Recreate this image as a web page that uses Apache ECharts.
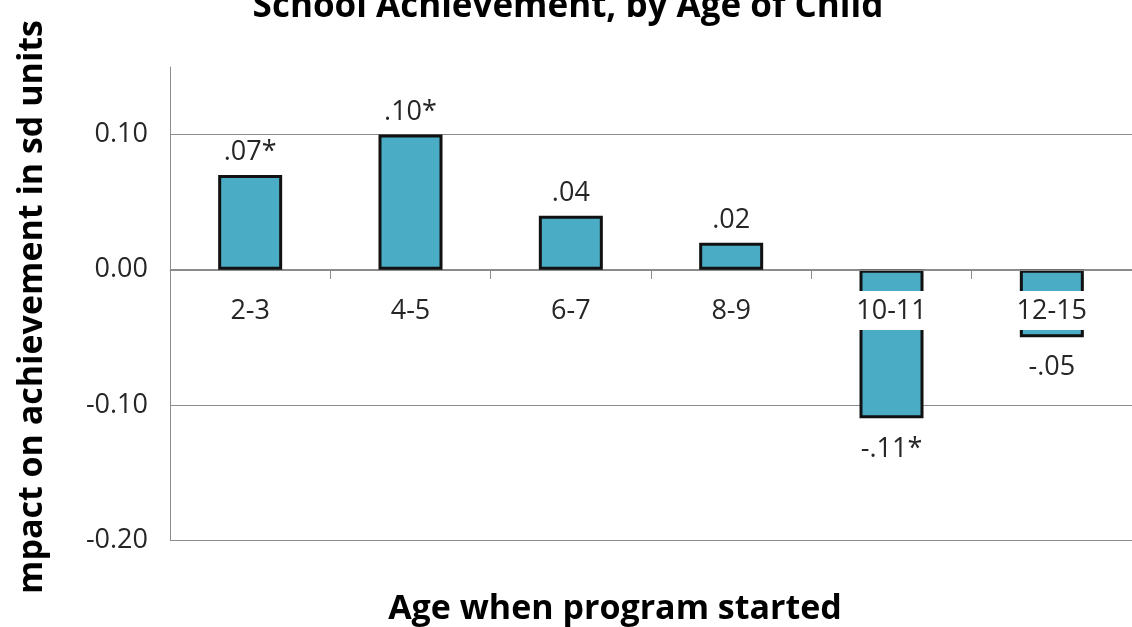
<!DOCTYPE html>
<html>
<head>
<meta charset="utf-8">
<script src="https://cdn.jsdelivr.net/npm/echarts@6/dist/echarts.min.js"></script>
<style>
html,body{margin:0;padding:0;background:#fff;}
#chart{width:1132px;height:627px;}
</style>
</head>
<body>
<div id="chart"></div>
<script>
var categories = ['2-3', '4-5', '6-7', '8-9', '10-11', '12-15'];
var values = [0.07, 0.10, 0.04, 0.02, -0.11, -0.05];
var valueLabels = ['.07*', '.10*', '.04', '.02', '-.11*', '-.05'];
var chartTitle = 'School Achievement, by Age of Child';
var xAxisTitle = 'Age when program started';
var yAxisTitle = 'mpact on achievement in sd units';

var FONT = '"Open Sans", "Liberation Sans", sans-serif';
var chart = echarts.init(document.getElementById('chart'), null, {renderer: 'canvas'});

var seriesData = values.map(function (v, i) {
  return {
    value: v,
    label: {
      position: v >= 0 ? 'top' : 'bottom',
      distance: v >= 0 ? 9 : 17,
      formatter: valueLabels[i]
    }
  };
});

chart.setOption({
  animation: false,
  backgroundColor: '#fff',
  grid: {left: 170, right: -16, top: 67, bottom: 87, containLabel: false},
  xAxis: {
    type: 'category',
    data: categories,
    z: 5,
    offset: -270,
    axisLine: {show: true, onZero: false, lineStyle: {color: '#8c8c8c', width: 1}},
    axisTick: {show: true, length: 9, lineStyle: {color: '#8c8c8c'}},
    axisLabel: {
      color: '#262626', fontSize: 27, fontFamily: FONT, margin: 21,
      backgroundColor: '#fff', padding: [7, 4, 5, 4]
    }
  },
  yAxis: {
    type: 'value',
    min: -0.2, max: 0.15, interval: 0.1,
    axisLine: {show: true, lineStyle: {color: '#8c8c8c', width: 1}},
    axisTick: {show: false},
    axisLabel: {
      color: '#262626', fontSize: 27, fontFamily: FONT, margin: 22,
      showMaxLabel: false,
      formatter: function (v) { return v.toFixed(2); }
    },
    splitLine: {show: true, showMaxLine: false, lineStyle: {color: '#8c8c8c', width: 1}}
  },
  series: [{
    type: 'bar',
    data: seriesData,
    barWidth: 64,
    itemStyle: {color: '#4BACC6', borderColor: '#111', borderWidth: 3},
    label: {show: true, color: '#262626', fontSize: 27, fontFamily: FONT}
  }],
  graphic: [
    {type: 'text', x: 568, y: 7, z: 10,
     style: {text: chartTitle, fontFamily: FONT, fontWeight: 'bold', fontSize: 35, fill: '#000', textAlign: 'center', textVerticalAlign: 'middle'}},
    {type: 'text', x: 615, y: 609, z: 10,
     style: {text: xAxisTitle, fontFamily: FONT, fontWeight: 'bold', fontSize: 34, fill: '#000', textAlign: 'center', textVerticalAlign: 'middle'}},
    {type: 'text', x: 32, y: 594, rotation: Math.PI / 2, z: 10,
     style: {text: yAxisTitle, fontFamily: FONT, fontWeight: 'bold', fontSize: 34, fill: '#000', textAlign: 'left', textVerticalAlign: 'middle'}}
  ]
});
</script>
</body>
</html>
